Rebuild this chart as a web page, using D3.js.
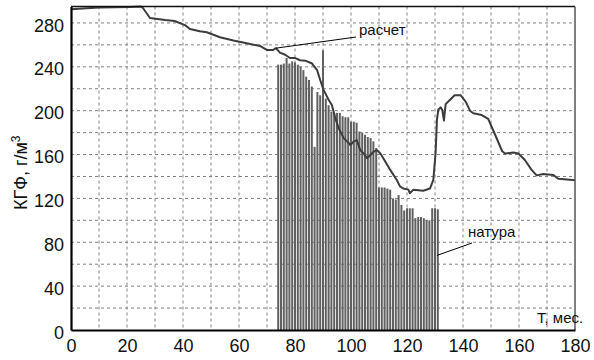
<!DOCTYPE html>
<html><head><meta charset="utf-8">
<script src="https://cdn.jsdelivr.net/npm/d3@7"></script>
<style>body{margin:0;background:#fff}svg{display:block}</style>
</head><body>
<svg id="c" width="594" height="360"></svg>
<script>
// calculated line (месяцы, КГФ)
const calcT = [0,10,21,25,25.7,28.2,33.6,37,40.7,42.5,46,48.5,53.2,58,62.7,67.5,69.9,72.2,73.2,74.6,76.5,78.2,80.1,81.8,83.7,86.1,87.9,89,90.2,92,93.2,94.4,95.6,97.4,98.6,99.8,101,102.1,103.3,104.5,105.7,106.9,108.1,109.3,110.5,112.3,114,116.3,117.5,118.7,120.5,121,122.3,125.8,128.2,129.4,130.2,130.7,131.2,132,132.6,133.2,133.8,135.3,137,139.2,141,142.5,143.7,146.7,149,151.4,154,155,158,159.8,162.1,164.5,166.3,168.7,172.3,174,178.2,180];
const calcV = [292.5,294,294.5,295,293.6,284.5,282.7,281.8,278,274.5,272.5,271.5,267,264,261.5,259,255.4,255.4,257,253,251,248,248,246,245.6,243,237,228,219,210,205,193,184,175,172,168.7,172,173,164,161,156.6,159.6,162.6,164,161,153.5,146,137,131,129,128,124.7,128,127,129,136.8,161,192,201,203,200.6,191,206,209.7,214,214,208,200,197.6,196,192.5,178.5,163,161,161.8,161,155,146,141,142.3,141.4,138,137,136.5];
// field data bars
const barT = [74,75,76,77,78,79,80,81,82,83,84,85,86,87,88,89,90,91,92,93,94,95,96,97,98,99,100,101,102,103,104,105,106,107,108,109,110,111,112,113,114,115,116,117,118,119,120,121,122,123,124,125,126,127,128,129,130,131];
const barV = [242,242,243,248,243,245,244,242,240,237,231,228,222,167,217,214,255,211,205,199,198,198,198,195,194,194,190,190,189,181,180,178,176,175,172,166,130,130,130,129,128,120,119,123,114,109,111,111,111,102,103,103,102,100,100,111,111,110];
const xTicks = [0,20,40,60,80,100,120,140,160,180];
const yTicks = [0,40,80,120,160,200,240,280];
const xGrid = [10,20,30,40,50,60,70,80,90,100,110,120,130,140,150,160,170];
const yGrid = [20,40,60,80,100,120,140,160,180,200,220,240,260,280];

const svg = d3.select('#c');
const x = d3.scaleLinear().domain([0,180]).range([71,575]);
const y = d3.scaleLinear().domain([0,295]).range([330,6.5]);
const font = 'Liberation Sans, Arial, sans-serif';

// grid
svg.append('g').selectAll('line').data(xGrid).join('line')
  .attr('x1',d=>x(d)).attr('x2',d=>x(d)).attr('y1',y(295)).attr('y2',y(0))
  .attr('stroke','#808080').attr('stroke-width',1).attr('stroke-dasharray','3,3');
svg.append('g').selectAll('line').data(yGrid).join('line')
  .attr('x1',x(0)).attr('x2',x(180)).attr('y1',d=>y(d)).attr('y2',d=>y(d))
  .attr('stroke','#808080').attr('stroke-width',1).attr('stroke-dasharray','3,3');

// bars
svg.append('g').selectAll('rect').data(barT.map((t,i)=>[t,barV[i]])).join('rect')
  .attr('x',d=>x(d[0])-1).attr('width',2)
  .attr('y',d=>y(d[1])).attr('height',d=>y(0)-y(d[1]))
  .attr('fill','#606060');

// line
svg.append('path').datum(calcT.map((t,i)=>[t,calcV[i]]))
  .attr('d',d3.line().x(d=>x(d[0])).y(d=>y(d[1])))
  .attr('fill','none').attr('stroke','#3c3c3c').attr('stroke-width',2).attr('stroke-linejoin','round');

// frame
svg.append('line').attr('x1',x(0)).attr('x2',x(180)).attr('y1',y(295)).attr('y2',y(295)).attr('stroke','#111').attr('stroke-width',1.6);
svg.append('line').attr('x1',x(180)).attr('x2',x(180)).attr('y1',y(295)).attr('y2',y(0)).attr('stroke','#555').attr('stroke-width',1.5);

// axes
const ax = svg.append('g').attr('transform',`translate(0,${y(0)})`)
  .call(d3.axisBottom(x).tickValues(xTicks).tickSize(0).tickPadding(9));
const ay = svg.append('g').attr('transform',`translate(${x(0)},0)`)
  .call(d3.axisLeft(y).tickValues(yTicks).tickSize(0).tickPadding(7));
[ax,ay].forEach(g=>{
  g.select('.domain').attr('stroke','#000').attr('stroke-width',2.2);
  g.selectAll('text').attr('font-family',font).attr('font-size',18).attr('fill','#111');
});
ay.selectAll('text').attr('dy','0.45em');

// labels
svg.append('text').attr('transform','translate(27,210) rotate(-90)')
  .attr('font-family',font).attr('font-size',18).attr('fill','#111')
  .html('КГФ, г/м<tspan dy="-7" font-size="12">3</tspan>');
svg.append('text').attr('x',537).attr('y',323).attr('font-family',font).attr('font-size',15).attr('fill','#111').text('Т, мес.');
svg.append('text').attr('x',359).attr('y',35).attr('font-family',font).attr('font-size',15).attr('fill','#111').text('расчет');
svg.append('text').attr('x',468).attr('y',237).attr('font-family',font).attr('font-size',15).attr('fill','#111').text('натура');
// leader lines
svg.append('line').attr('x1',x(73.2)).attr('y1',y(257)).attr('x2',356).attr('y2',37).attr('stroke','#000').attr('stroke-width',1);
svg.append('line').attr('x1',x(130.7)).attr('y1',y(68)).attr('x2',472).attr('y2',243).attr('stroke','#000').attr('stroke-width',1);
</script>
</body></html>
